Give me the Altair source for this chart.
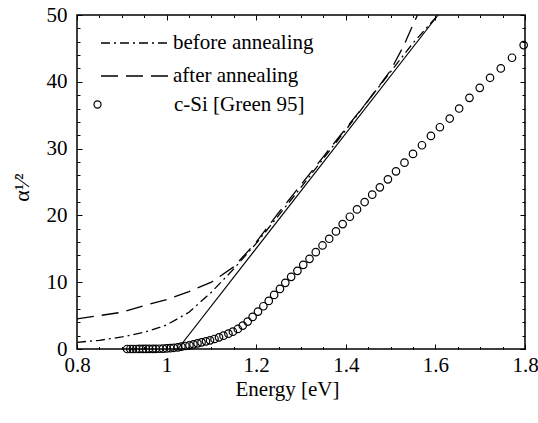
import altair as alt
import pandas as pd

FONT = "Liberation Serif"
W, H = 448, 334

# c-Si [Green 95] data: energy (eV) and alpha^(1/2)
energy_csi = [1.797, 1.771, 1.746, 1.722, 1.699, 1.676, 1.653, 1.632, 1.610, 1.590,
              1.570, 1.550, 1.531, 1.512, 1.494, 1.476, 1.459, 1.442, 1.425, 1.409,
              1.393, 1.378, 1.363, 1.348, 1.333, 1.319, 1.305, 1.292, 1.278, 1.265,
              1.253, 1.240, 1.228, 1.216, 1.204, 1.192, 1.181, 1.170, 1.159, 1.148,
              1.138, 1.127, 1.117, 1.107, 1.097, 1.088, 1.078, 1.069, 1.060, 1.051,
              1.042, 1.033, 1.025, 1.016, 1.008, 1.000, 0.992, 0.984, 0.976, 0.969,
              0.961, 0.954, 0.947, 0.939, 0.932, 0.925, 0.919, 0.912]
alpha_csi = [45.5, 43.6, 42.0, 40.6, 39.1, 37.6, 36.0, 34.5, 33.2, 31.9,
             30.5, 29.2, 27.9, 26.6, 25.4, 24.2, 23.1, 22.0, 20.9, 19.8,
             18.7, 17.6, 16.5, 15.5, 14.5, 13.5, 12.6, 11.7, 10.8, 9.9,
             9.0, 8.1, 7.2, 6.4, 5.6, 4.8, 4.1, 3.5, 3.0, 2.6,
             2.3, 2.0, 1.75, 1.5, 1.3, 1.15, 1.0, 0.85, 0.7, 0.55,
             0.45, 0.35, 0.25, 0.18, 0.12, 0.08, 0.05, 0.04, 0.03, 0.02,
             0.02, 0.01, 0.01, 0.01, 0.0, 0.0, 0.0, 0.0]

# before annealing (dash-dot)
before_x = [0.80, 0.85, 0.90, 0.95, 1.00, 1.05, 1.10, 1.15, 1.20, 1.25,
            1.30, 1.35, 1.40, 1.45, 1.50, 1.55, 1.606]
before_y = [1.0, 1.3, 1.8, 2.5, 3.6, 5.5, 8.5, 12.0, 15.8, 20.0,
            24.2, 28.5, 32.8, 37.2, 41.5, 45.8, 50.0]

# after annealing (dashed)
after_x = [0.80, 0.85, 0.90, 0.95, 1.00, 1.05, 1.10, 1.15, 1.20, 1.25,
           1.30, 1.35, 1.40, 1.45, 1.50, 1.53, 1.545, 1.56]
after_y = [4.5, 5.0, 5.5, 6.5, 7.4, 8.6, 10.0, 12.3, 16.0, 20.4,
           24.6, 28.8, 33.0, 37.2, 41.7, 45.5, 47.8, 50.0]

# linear fit (solid)
fit_x = [1.025, 1.606]
fit_y = [0.0, 50.0]

series_names = ["before annealing", "after annealing"]
series_dash = [[9, 4, 2, 4], [17, 8]]
csi_name = "c-Si [Green 95]"

x_major = [0.8, 1.0, 1.2, 1.4, 1.6, 1.8]
x_minor = [0.85, 0.9, 0.95, 1.05, 1.1, 1.15, 1.25, 1.3, 1.35, 1.45, 1.5, 1.55,
           1.65, 1.7, 1.75]
y_major = [0, 10, 20, 30, 40, 50]
y_minor = [2, 4, 6, 8, 12, 14, 16, 18, 22, 24, 26, 28, 32, 34, 36, 38, 42, 44, 46, 48]

lines_df = pd.DataFrame(
    {"E": before_x + after_x,
     "v": before_y + after_y,
     "series": [series_names[0]] * len(before_x) + [series_names[1]] * len(after_x)}
)
csi_df = pd.DataFrame({"E": energy_csi, "v": alpha_csi, "label": [csi_name] * len(energy_csi)})
fit_df = pd.DataFrame({"E": fit_x, "v": fit_y})

xs = alt.Scale(domain=[0.8, 1.8], nice=False, zero=False)
ys = alt.Scale(domain=[0, 50], nice=False, zero=False)


def tick_axis(values, orient, offset, size):
    return alt.Axis(values=values, orient=orient, offset=offset, tickSize=size,
                    tickColor="black", tickWidth=1, labels=False, domain=False,
                    grid=False, title=None)


lines = alt.Chart(lines_df).mark_line(color="black", strokeWidth=1.3).encode(
    x=alt.X("E:Q", scale=xs, axis=alt.Axis(
        values=x_major, format="~g", orient="bottom", ticks=False, domain=False,
        grid=False, labelFont=FONT, labelFontSize=21, labelColor="black",
        labelPadding=5, labelFlush=False, title="Energy [eV]", titleFont=FONT,
        titleFontSize=21, titleFontWeight="normal", titleColor="black",
        titleX=210, titleY=46, titleAlign="center", titleBaseline="alphabetic")),
    y=alt.Y("v:Q", scale=ys, axis=alt.Axis(
        values=y_major, orient="left", ticks=False, domain=False, grid=False,
        labelFont=FONT, labelFontSize=21, labelColor="black", labelPadding=10,
        labelFlush=False, title="α¹⁄²", titleFont=FONT, titleFontSize=22,
        titleFontWeight="normal", titleColor="black", titleAngle=270,
        titleX=-56, titleY=172, titleAlign="center", titleBaseline="middle")),
    strokeDash=alt.StrokeDash("series:N", scale=alt.Scale(domain=series_names, range=series_dash),
                              legend=alt.Legend(title=None, orient="none", legendX=47, legendY=17,
                                                symbolType="M-3.4,0H3.4", symbolSize=400,
                                                symbolStrokeWidth=1.3, symbolStrokeColor="black",
                                                labelFont=FONT, labelFontSize=21, labelColor="black",
                                                labelOffset=27, rowPadding=12, padding=0)),
)

fit = alt.Chart(fit_df).mark_line(color="black", strokeWidth=1.2).encode(
    x=alt.X("E:Q", scale=xs, axis=tick_axis(x_major, "top", -H, 5)),
    y=alt.Y("v:Q", scale=ys, axis=tick_axis(y_major, "right", -W, 5)),
)

circles = alt.Chart(csi_df).mark_point(filled=False, size=56, strokeWidth=1.2,
                                        color="black", opacity=1).encode(
    x=alt.X("E:Q", scale=xs, axis=tick_axis(x_major, "bottom", -H, 5)),
    y=alt.Y("v:Q", scale=ys, axis=tick_axis(y_major, "left", -W, 5)),
    shape=alt.Shape("label:N", scale=alt.Scale(domain=[csi_name], range=["circle"]),
                    legend=alt.Legend(title=None, orient="none", legendX=10, legendY=79,
                                      symbolSize=50, symbolStrokeWidth=1.2,
                                      symbolStrokeColor="black", symbolFillColor="transparent",
                                      labelFont=FONT, labelFontSize=21, labelColor="black",
                                      labelOffset=66, padding=0)),
)

minor_a = alt.Chart(fit_df).mark_line(strokeOpacity=0).encode(
    x=alt.X("E:Q", scale=xs, axis=tick_axis(x_minor, "top", -H, 2.5)),
    y=alt.Y("v:Q", scale=ys, axis=tick_axis(y_minor, "right", -W, 3)),
)
minor_b = alt.Chart(fit_df).mark_line(strokeOpacity=0).encode(
    x=alt.X("E:Q", scale=xs, axis=tick_axis(x_minor, "bottom", -H, 2.5)),
    y=alt.Y("v:Q", scale=ys, axis=tick_axis(y_minor, "left", -W, 3)),
)

chart = alt.layer(lines, fit, circles, minor_a, minor_b).resolve_axis(
    x="independent", y="independent"
).resolve_legend(
    strokeDash="independent", shape="independent"
).properties(
    width=W, height=H,
    autosize=alt.AutoSizeParams(type="none"),
    padding={"left": 77, "top": 15, "right": 13, "bottom": 74},
    background="white",
).configure_view(stroke="black", strokeWidth=1.5)

chart.save("out.html", embed_options={"renderer": "svg", "actions": False})
